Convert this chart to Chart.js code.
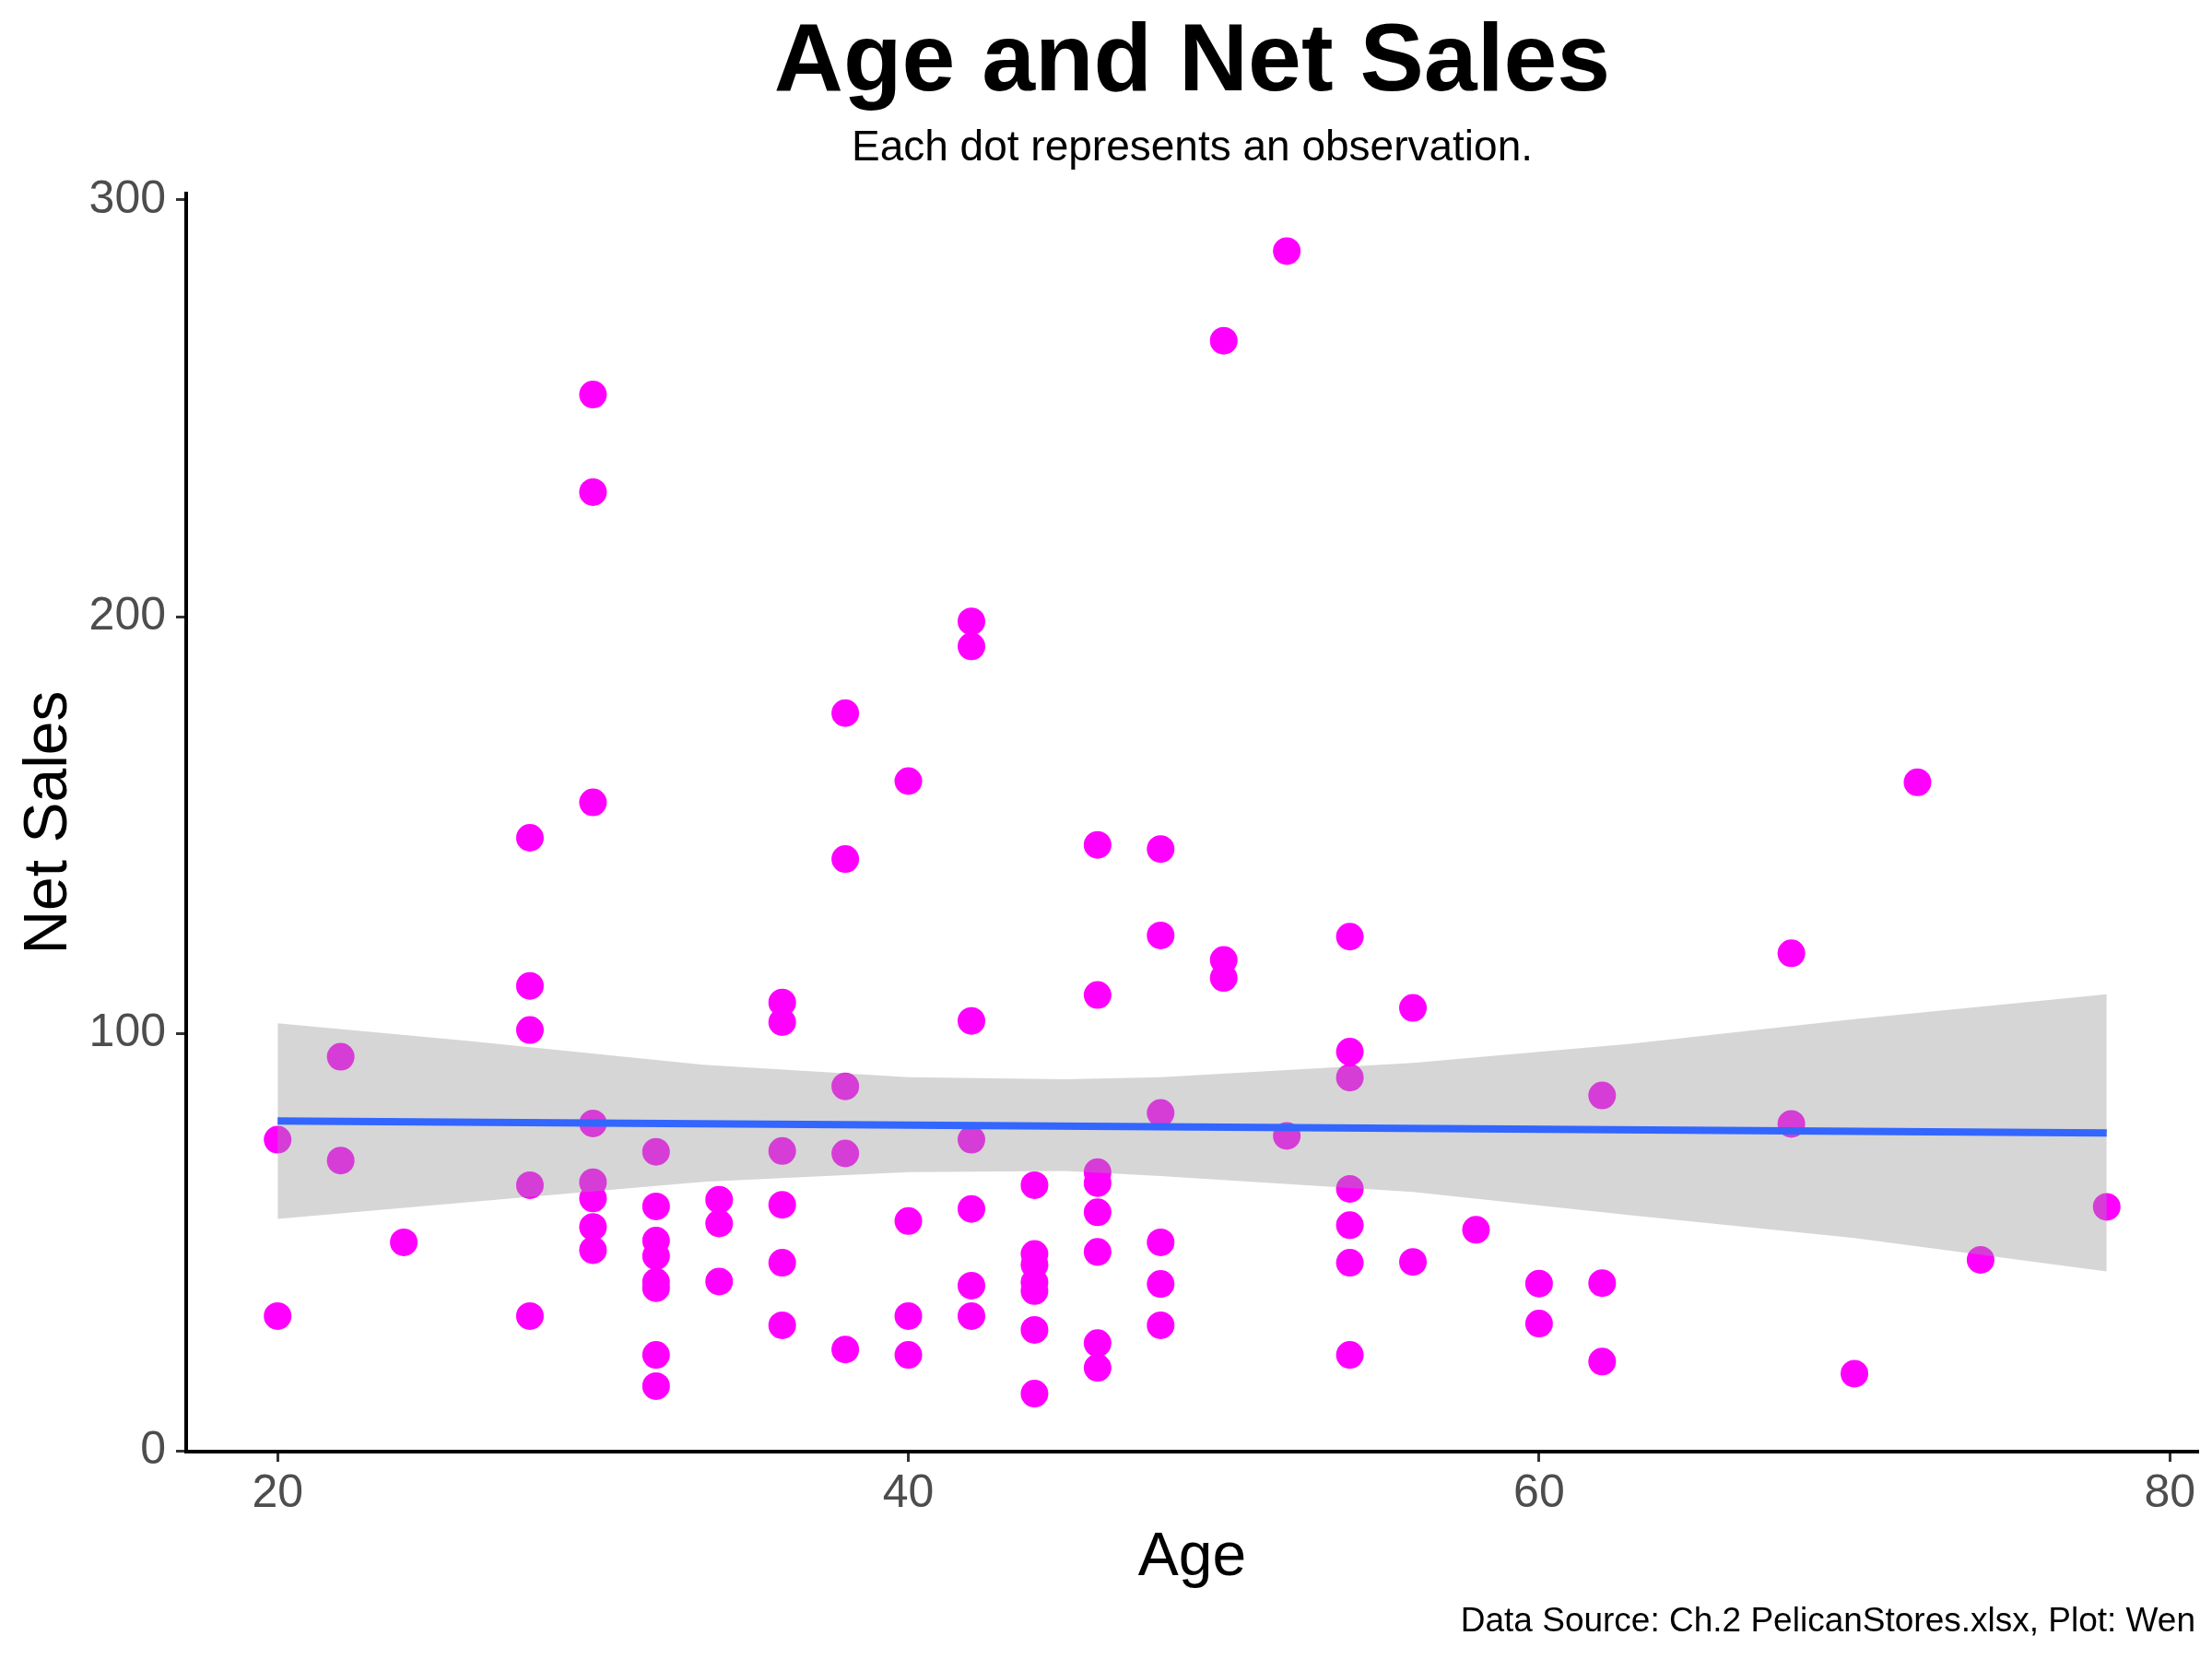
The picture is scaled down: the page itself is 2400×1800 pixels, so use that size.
<!DOCTYPE html>
<html>
<head>
<meta charset="utf-8">
<title>Age and Net Sales</title>
<script src="https://cdn.jsdelivr.net/npm/chart.js@4.4.1/dist/chart.umd.min.js"></script>
<style>
  html, body { margin: 0; padding: 0; background: #ffffff; }
  #wrap { width: 2400px; height: 1800px; }
</style>
</head>
<body>
<div id="wrap"><canvas id="chart" width="2400" height="1800"></canvas></div>
<script>
const ages = [
  20, 20,
  22, 22,
  24,
  28, 28, 28, 28, 28,
  30, 30, 30, 30, 30, 30, 30, 30,
  32, 32, 32, 32, 32, 32, 32, 32,
  34, 34, 34,
  36, 36, 36, 36, 36, 36,
  38, 38, 38, 38, 38,
  40, 40, 40, 40,
  42, 42, 42, 42, 42, 42, 42,
  44, 44, 44, 44, 44, 44, 44,
  46, 46, 46, 46, 46, 46, 46, 46,
  48, 48, 48, 48, 48, 48,
  50, 50, 50,
  52, 52,
  54, 54, 54, 54, 54, 54, 54,
  56, 56,
  58,
  60, 60,
  62, 62, 62,
  68, 68,
  70,
  72,
  74,
  78
];
const netSales = [
  74.6, 32.3,
  94.5, 69.6,
  50.0,
  147.0, 111.5, 100.9, 63.7, 32.3,
  253.3, 229.9, 155.5, 78.5, 64.4, 60.5, 53.7, 48.1,
  71.7, 58.6, 50.4, 46.7, 40.5, 39.0, 23.0, 15.5,
  60.2, 54.5, 40.6,
  107.5, 102.8, 71.9, 59.0, 45.1, 30.1,
  176.9, 141.9, 87.4, 71.3, 24.3,
  160.6, 55.1, 32.3, 23.0,
  198.9, 192.9, 103.1, 74.6, 58.0, 39.6, 32.3,
  63.7, 47.2, 44.6, 40.4, 38.3, 29.0, 13.7,
  145.3, 109.3, 66.8, 64.2, 57.2, 47.7, 25.8, 19.9,
  144.3, 123.6, 81.0, 50.0, 40.0, 30.1,
  266.2, 117.7, 113.4,
  287.7, 75.5,
  123.3, 95.7, 89.5, 62.8, 54.1, 45.1, 23.0,
  106.2, 45.3,
  53.0,
  40.1, 30.5,
  85.2, 40.2, 21.4,
  119.3, 78.4,
  18.5,
  160.3,
  45.8,
  58.5
];

// linear fit and its confidence band
const fitAge = [20, 78];
const fitSales = [79.1, 76.2];
const bandAge = [20, 26, 33.5, 40, 45, 48, 56, 62.9, 70, 78];
const bandUpper = [102.5, 98.3, 92.6, 89.6, 89.1, 89.6, 93.0, 97.6, 103.5, 109.5];
const bandLower = [55.6, 59.6, 64.5, 66.8, 67.1, 65.9, 62.1, 56.5, 51.0, 43.0];

const xTicks = [20, 40, 60, 80];
const yTicks = [0, 100, 200, 300];

const FONT = '"Liberation Sans", Arial, Helvetica, sans-serif';
const captionText = 'Data Source: Ch.2 PelicanStores.xlsx, Plot: Wen';

const toXY = (xs, ys) => xs.map((x, i) => ({ x: x, y: ys[i] }));

const captionPlugin = {
  id: 'caption',
  afterDraw(chart) {
    const ctx = chart.ctx;
    ctx.save();
    ctx.font = '37px ' + FONT;
    ctx.fillStyle = '#000000';
    ctx.textAlign = 'right';
    ctx.textBaseline = 'alphabetic';
    ctx.fillText(captionText, chart.chartArea.right - 3, chart.height - 30);
    ctx.restore();
  }
};

const axisStyle = {
  grid: { display: true, drawOnChartArea: false, drawTicks: true, tickWidth: 3, tickColor: '#333333' },
  border: { display: true, color: '#000000', width: 4 }
};

new Chart(document.getElementById('chart'), {
  data: {
    datasets: [
      {
        type: 'scatter',
        data: toXY(ages, netSales),
        backgroundColor: '#FF00FF',
        borderColor: 'rgba(0,0,0,0)',
        borderWidth: 0,
        pointRadius: 15,
        pointHoverRadius: 15,
        order: 3
      },
      {
        type: 'line',
        data: toXY(bandAge, bandLower),
        borderColor: 'rgba(0,0,0,0)',
        borderWidth: 1,
        pointRadius: 0,
        fill: false,
        tension: 0,
        order: 2
      },
      {
        type: 'line',
        data: toXY(bandAge, bandUpper),
        borderColor: 'rgba(0,0,0,0)',
        borderWidth: 1,
        backgroundColor: 'rgba(153,153,153,0.4)',
        pointRadius: 0,
        fill: '-1',
        tension: 0,
        order: 1
      },
      {
        type: 'line',
        data: toXY(fitAge, fitSales),
        borderColor: '#3366FF',
        borderWidth: 8,
        pointRadius: 0,
        fill: false,
        tension: 0,
        order: 0
      }
    ]
  },
  options: {
    responsive: false,
    devicePixelRatio: 1,
    animation: false,
    events: [],
    layout: { padding: { left: 0, right: 13, top: 0, bottom: 0 } },
    plugins: {
      legend: { display: false },
      tooltip: { enabled: false },
      title: {
        display: true,
        text: 'Age and Net Sales',
        color: '#000000',
        fullSize: false,
        font: { family: FONT, size: 104, weight: 'bold', lineHeight: 1 },
        padding: { top: 17, bottom: 0 }
      },
      subtitle: {
        display: true,
        text: 'Each dot represents an observation.',
        color: '#000000',
        fullSize: false,
        font: { family: FONT, size: 46, lineHeight: 1 },
        padding: { top: 17, bottom: 26 }
      }
    },
    scales: {
      x: {
        type: 'linear',
        min: 17.1,
        max: 80.9,
        afterFit: s => { s.height = 225; },
        afterBuildTicks: s => { s.ticks = xTicks.map(v => ({ value: v })); },
        ticks: { font: { family: FONT, size: 50 }, color: '#4d4d4d', padding: 5, maxRotation: 0 },
        grid: Object.assign({}, axisStyle.grid, { tickLength: 11 }),
        border: axisStyle.border,
        title: {
          display: true,
          text: 'Age',
          color: '#000000',
          font: { family: FONT, size: 66, lineHeight: 1 },
          padding: { top: 0, bottom: 76 }
        }
      },
      y: {
        type: 'linear',
        min: -0.2,
        max: 301.5,
        afterFit: s => { s.width = 202; },
        afterBuildTicks: s => { s.ticks = yTicks.map(v => ({ value: v })); },
        ticks: { font: { family: FONT, size: 50 }, color: '#4d4d4d', padding: 11 },
        grid: Object.assign({}, axisStyle.grid, { tickLength: 11 }),
        border: axisStyle.border,
        title: {
          display: true,
          text: 'Net Sales',
          color: '#000000',
          font: { family: FONT, size: 66, lineHeight: 1 },
          padding: { top: 21, bottom: 0 }
        }
      }
    }
  },
  plugins: [captionPlugin]
});
</script>
</body>
</html>
